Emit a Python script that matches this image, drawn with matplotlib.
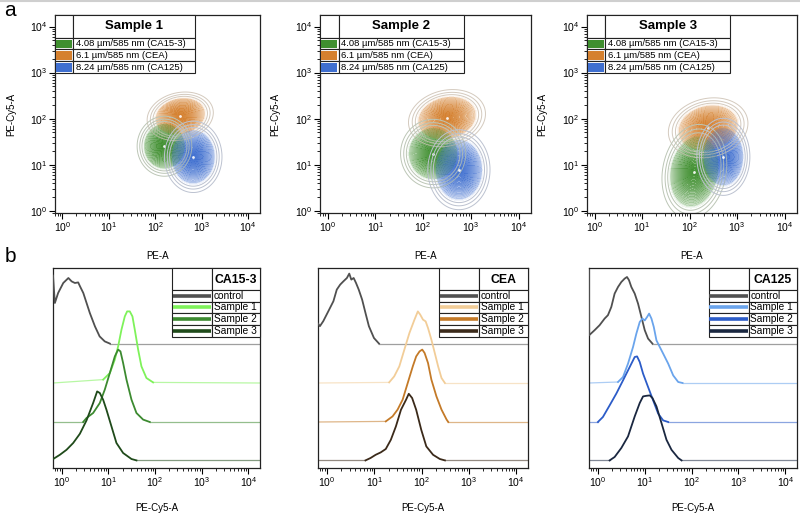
import numpy as np
import matplotlib
matplotlib.use('Agg')
import matplotlib.pyplot as plt
from matplotlib.patches import Rectangle
from matplotlib.lines import Line2D
from matplotlib.colors import to_rgba

plt.rcParams['font.family'] = ['Liberation Sans', 'DejaVu Sans']

# ---- panel a: bead populations, centre / spread in log10 units (PE-A, PE-Cy5-A)
sample_names = ['Sample 1', 'Sample 2', 'Sample 3']
pop_labels = ['4.08 \u00b5m/585 nm (CA15-3)', '6.1 \u00b5m/585 nm (CEA)', '8.24 \u00b5m/585 nm (CA125)']
pop_colors = ['#3f8f2f', '#d5802e', '#3f6fd0']
pop_outline = ['#bcc6b6', '#d4cabe', '#bcc2d0']
draw_order = [1, 0, 2]

pop_centers = [
    [(2.20, 1.40), (2.54, 2.05), (2.82, 1.17)],
    [(2.21, 1.24), (2.50, 2.01), (2.75, 0.89)],
    [(2.10, 0.85), (2.39, 1.80), (2.71, 1.17)],
]
# (sigma x, sigma y, correlation)
pop_spreads = [
    [(0.19, 0.21, 0.0), (0.23, 0.17, 0.15), (0.20, 0.25, 0.0)],
    [(0.22, 0.24, 0.0), (0.26, 0.20, 0.15), (0.21, 0.28, 0.0)],
    [(0.22, 0.33, 0.15), (0.27, 0.21, 0.15), (0.18, 0.27, 0.0)],
]

# ---- panel b: histograms, log10 PE-Cy5-A and height above each trace's baseline
hist_markers = ['CA15-3', 'CEA', 'CA125']
hist_series = ['control', 'Sample 1', 'Sample 2', 'Sample 3']
hist_colors = [
    ['#505050', '#7ef25a', '#3c8a30', '#1f4a1a'],
    ['#505050', '#f2cd98', '#c47a28', '#3b2a1a'],
    ['#505050', '#6aa4ec', '#2c5cc8', '#1a2740'],
]
baselines = [0.622, 0.425, 0.23, 0.038]

ca153_x = [
    [-0.19, -0.15, -0.08, 0.03, 0.14, 0.21, 0.28, 0.35, 0.39, 0.46, 0.53, 0.60, 0.71, 0.81, 0.92, 1.03],
    [0.886, 1.03, 1.136, 1.207, 1.279, 1.35, 1.40, 1.457, 1.514, 1.564, 1.636, 1.707, 1.814, 1.957],
    [0.457, 0.529, 0.671, 0.814, 0.921, 1.029, 1.136, 1.207, 1.257, 1.314, 1.386, 1.493, 1.60, 1.743, 1.886],
    [-0.186, -0.043, 0.10, 0.243, 0.386, 0.529, 0.671, 0.757, 0.814, 0.886, 0.957, 1.064, 1.171, 1.314, 1.493, 1.60],
]
ca153_h = [
    [0.34, 0.203, 0.253, 0.303, 0.328, 0.311, 0.303, 0.306, 0.286, 0.253, 0.203, 0.153, 0.086, 0.036, 0.011, 0.0],
    [0.017, 0.05, 0.117, 0.183, 0.267, 0.333, 0.358, 0.358, 0.333, 0.267, 0.167, 0.083, 0.025, 0.003],
    [0.0, 0.02, 0.045, 0.095, 0.162, 0.245, 0.328, 0.362, 0.353, 0.295, 0.212, 0.112, 0.045, 0.012, 0.0],
    [0.007, 0.028, 0.053, 0.087, 0.133, 0.20, 0.287, 0.345, 0.337, 0.303, 0.253, 0.17, 0.087, 0.037, 0.007, 0.0],
]
cea_x = [
    [-0.19, -0.15, -0.079, 0.029, 0.136, 0.207, 0.279, 0.35, 0.421, 0.471, 0.514, 0.564, 0.614, 0.671, 0.743, 0.814, 0.886, 0.993, 1.10],
    [1.314, 1.421, 1.529, 1.636, 1.743, 1.85, 1.921, 1.971, 2.029, 2.086, 2.136, 2.207, 2.279, 2.35, 2.421, 2.493],
    [1.243, 1.386, 1.493, 1.60, 1.707, 1.814, 1.886, 1.957, 2.014, 2.064, 2.136, 2.207, 2.314, 2.421, 2.529, 2.564],
    [0.814, 0.921, 1.029, 1.136, 1.243, 1.35, 1.457, 1.564, 1.671, 1.729, 1.80, 1.886, 1.993, 2.10, 2.243, 2.386, 2.493],
]
cea_h = [
    [0.10, 0.087, 0.112, 0.162, 0.212, 0.27, 0.295, 0.312, 0.328, 0.35, 0.32, 0.328, 0.303, 0.27, 0.22, 0.153, 0.087, 0.028, 0.0],
    [0.003, 0.033, 0.083, 0.167, 0.25, 0.317, 0.358, 0.342, 0.317, 0.308, 0.275, 0.217, 0.15, 0.083, 0.025, 0.0],
    [0.003, 0.028, 0.062, 0.112, 0.195, 0.278, 0.328, 0.353, 0.362, 0.345, 0.295, 0.212, 0.128, 0.062, 0.012, 0.0],
    [0.0, 0.012, 0.028, 0.04, 0.057, 0.103, 0.17, 0.253, 0.303, 0.333, 0.312, 0.253, 0.153, 0.07, 0.028, 0.007, 0.0],
]
ca125_x = [
    [-0.19, -0.186, -0.071, 0.036, 0.143, 0.214, 0.286, 0.357, 0.429, 0.50, 0.571, 0.621, 0.664, 0.714, 0.786, 0.857, 0.929, 1.0, 1.071, 1.164],
    [0.429, 0.536, 0.643, 0.75, 0.821, 0.893, 0.95, 1.0, 1.05, 1.093, 1.143, 1.193, 1.25, 1.321, 1.393, 1.50, 1.607, 1.714, 1.807],
    [0.0, 0.107, 0.25, 0.393, 0.536, 0.679, 0.786, 0.836, 0.893, 0.964, 1.071, 1.179, 1.286, 1.393, 1.50],
    [0.25, 0.357, 0.50, 0.643, 0.786, 0.893, 0.964, 1.036, 1.107, 1.164, 1.25, 1.357, 1.464, 1.571, 1.714, 1.786],
]
ca125_h = [
    [0.367, 0.042, 0.067, 0.092, 0.125, 0.142, 0.183, 0.25, 0.283, 0.308, 0.325, 0.333, 0.317, 0.283, 0.25, 0.20, 0.133, 0.067, 0.025, 0.0],
    [0.005, 0.03, 0.097, 0.18, 0.247, 0.305, 0.322, 0.313, 0.33, 0.347, 0.322, 0.28, 0.213, 0.18, 0.147, 0.097, 0.038, 0.005, 0.0],
    [0.0, 0.025, 0.083, 0.142, 0.208, 0.275, 0.325, 0.328, 0.30, 0.242, 0.175, 0.108, 0.042, 0.008, 0.0],
    [0.0, 0.017, 0.062, 0.12, 0.22, 0.287, 0.32, 0.323, 0.325, 0.312, 0.27, 0.187, 0.103, 0.053, 0.012, 0.0],
]
hist_x = [ca153_x, cea_x, ca125_x]
hist_h = [ca153_h, cea_h, ca125_h]

W, H = 800, 514
TOP_XLIM = (10 ** -0.16, 10 ** 4.26)
TOP_YLIM = (10 ** -0.05, 10 ** 4.25)
HIST_XLIM = (10 ** -0.19, 10 ** 4.25)


def px_axes(fig, left, right, top, bottom):
    return fig.add_axes([left / W, 1 - bottom / H, (right - left) / W, (bottom - top) / H])


def style_axes(ax):
    for s in ax.spines.values():
        s.set_linewidth(0.9)
        s.set_color('#222222')
    ax.tick_params(which='major', direction='out', length=4, width=0.8, labelsize=7.5, pad=1.5)
    ax.tick_params(which='minor', direction='out', length=2.2, width=0.6)


def sample_table(ax, title):
    t = ax.transAxes
    x0, x1, x2 = 0.0, 0.088, 0.683
    rows = [1.0, 0.884, 0.826, 0.766, 0.705]
    kw = dict(transform=t, fc='white', ec='#222222', lw=0.8, zorder=6, clip_on=False)
    ax.add_patch(Rectangle((x0, rows[1]), x1 - x0, rows[0] - rows[1], **kw))
    ax.add_patch(Rectangle((x1, rows[1]), x2 - x1, rows[0] - rows[1], **kw))
    ax.text((x1 + x2) / 2, (rows[0] + rows[1]) / 2, title, transform=t, ha='center', va='center',
            fontsize=9.5, fontweight='bold', zorder=7)
    for i in range(3):
        top, bot = rows[i + 1], rows[i + 2]
        ax.add_patch(Rectangle((x0, bot), x1 - x0, top - bot, **kw))
        ax.add_patch(Rectangle((x1, bot), x2 - x1, top - bot, **kw))
        ax.add_patch(Rectangle((x0 + 0.006, bot + 0.008), x1 - x0 - 0.012, top - bot - 0.016,
                               transform=t, fc=pop_colors[i], ec='none', zorder=7))
        ax.text(x1 + 0.012, (top + bot) / 2, pop_labels[i], transform=t, ha='left', va='center',
                fontsize=6.8, zorder=7)


def hist_table(ax, title, colors):
    t = ax.transAxes
    x0, x1, x2 = 0.575, 0.768, 1.0
    rows = [1.0, 0.89, 0.832, 0.774, 0.715, 0.657]
    kw = dict(transform=t, fc='white', ec='#222222', lw=0.8, zorder=6, clip_on=False)
    ax.add_patch(Rectangle((x0, rows[1]), x1 - x0, rows[0] - rows[1], **kw))
    ax.add_patch(Rectangle((x1, rows[1]), x2 - x1, rows[0] - rows[1], **kw))
    ax.text((x1 + x2) / 2, (rows[0] + rows[1]) / 2 - 0.005, title, transform=t, ha='center', va='center',
            fontsize=8.8, fontweight='bold', zorder=7)
    for i, name in enumerate(hist_series):
        top, bot = rows[i + 1], rows[i + 2]
        ax.add_patch(Rectangle((x0, bot), x1 - x0, top - bot, **kw))
        ax.add_patch(Rectangle((x1, bot), x2 - x1, top - bot, **kw))
        ax.plot([x0 + 0.004, x1 - 0.004], [(top + bot) / 2] * 2, transform=t, color=colors[i],
                lw=2.6, solid_capstyle='butt', zorder=7, clip_on=False)
        ax.text(x1 + 0.008, (top + bot) / 2, name, transform=t, ha='left', va='center',
                fontsize=7.3, zorder=7)


fig = plt.figure(figsize=(W / 100, H / 100), dpi=100)
fig.add_artist(Line2D([0, 1], [0.998, 0.998], color='#cfcfcf', lw=1.5))
fig.text(4 / W, 1 - 1 / H, 'a', fontsize=15, va='top', ha='left')
fig.text(5 / W, 1 - 247 / H, 'b', fontsize=15, va='top', ha='left')

# ---- panel a
top_boxes = [(55, 260), (320, 531), (587, 797)]
gx = np.linspace(-0.3, 4.4, 360)
gy = np.linspace(-0.3, 4.4, 360)
LX, LY = np.meshgrid(gx, gy)
fill_r = np.linspace(2.4, 0.0, 26)
line_r = np.linspace(2.25, 0.2, 22)
outer_r = np.array([3.1, 2.8, 2.55])

for k, (l, r) in enumerate(top_boxes):
    ax = px_axes(fig, l, r, 15, 213)
    ax.set_xscale('log')
    ax.set_yscale('log')
    for p in draw_order:
        cx, cy = pop_centers[k][p]
        sx, sy, rho = pop_spreads[k][p]
        dx = (LX - cx) / sx
        dy = (LY - cy) / sy
        Z = np.exp(-0.5 * (dx ** 2 - 2 * rho * dx * dy + dy ** 2) / (1 - rho ** 2))
        lev_fill = np.exp(-0.5 * fill_r ** 2)
        lev_fill[-1] = 1.01
        band_cols = [to_rgba(pop_colors[p], a) for a in np.linspace(0.07, 0.8, len(lev_fill) - 1)]
        ax.contourf(10 ** LX, 10 ** LY, Z, levels=lev_fill, colors=band_cols)
        ax.contour(10 ** LX, 10 ** LY, Z, levels=np.exp(-0.5 * line_r ** 2), colors=pop_colors[p],
                   linewidths=0.4, alpha=0.4)
        ax.contour(10 ** LX, 10 ** LY, Z, levels=np.exp(-0.5 * outer_r ** 2), colors=pop_outline[p],
                   linewidths=0.7)
        ax.plot(10 ** cx, 10 ** cy, marker='o', ms=2.0, color='white', mec='none', alpha=0.9)
    ax.set_xlim(*TOP_XLIM)
    ax.set_ylim(*TOP_YLIM)
    style_axes(ax)
    ax.set_xlabel('PE-A', fontsize=7)
    ax.xaxis.set_label_coords(0.5, -0.19)
    ax.set_ylabel('PE-Cy5-A', fontsize=7)
    ax.yaxis.set_label_coords(-0.19, 0.5)
    sample_table(ax, sample_names[k])

# ---- panel b
hist_boxes = [(53, 260), (318, 528), (589, 797)]
for k, (l, r) in enumerate(hist_boxes):
    ax = px_axes(fig, l, r, 268, 468)
    ax.set_xscale('log')
    lo, hi = np.log10(HIST_XLIM[0]), np.log10(HIST_XLIM[1])
    for i in range(4):
        xs = np.array(hist_x[k][i])
        hs = np.array(hist_h[k][i])
        col = hist_colors[k][i]
        base = baselines[i]
        # flat stretches either side of the peak: thin, faded
        if xs[0] > lo + 0.01:
            ax.plot(10 ** np.array([lo, xs[0]]), [base, base + hs[0]], color=col, lw=0.9, alpha=0.55, zorder=2)
        ax.plot(10 ** np.array([xs[-1], hi]), [base + hs[-1], base], color=col, lw=0.9, alpha=0.55, zorder=2)
        ax.plot(10 ** xs, base + hs, color=col, lw=1.3, zorder=3)
    ax.set_xlim(*HIST_XLIM)
    ax.set_ylim(0, 1)
    ax.set_yticks([])
    style_axes(ax)
    ax.set_xlabel('PE-Cy5-A', fontsize=7)
    ax.xaxis.set_label_coords(0.5, -0.175)
    hist_table(ax, hist_markers[k], hist_colors[k])

fig.savefig('out.png', dpi=100)
